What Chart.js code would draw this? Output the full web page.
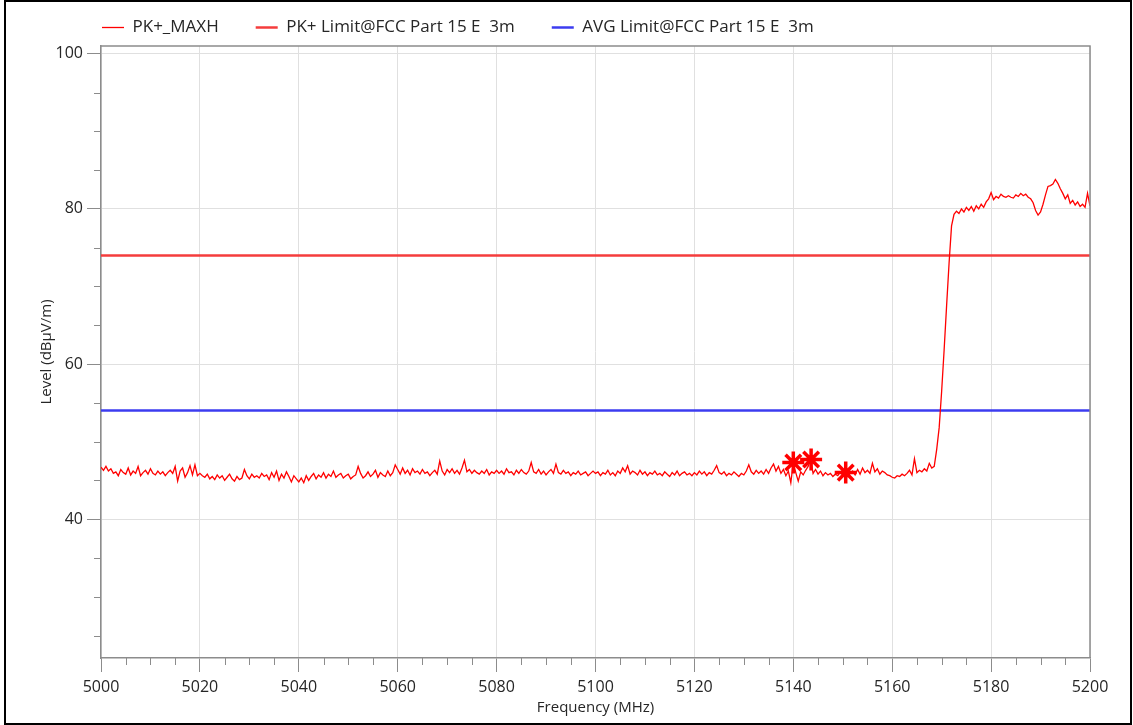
<!DOCTYPE html>
<html>
<head>
<meta charset="utf-8">
<script src="https://cdn.jsdelivr.net/npm/chart.js@4.4.1/dist/chart.umd.min.js"></script>
<style>
  html, body { margin: 0; padding: 0; background: #fff; }
  #frame { position: absolute; left: 4px; top: 0; width: 1128px; height: 725px; box-sizing: border-box; border: 2px solid #000; }
  #chart { display: block; }
</style>
</head>
<body>
<div id="frame"><canvas id="chart" width="1124" height="721"></canvas></div>
<script>
// sweep grid (MHz)
const freqStart = 5000;
const freqStep = 0.5;

// PK+_MAXH trace, dBµV/m, one value per 0.5 MHz from 5000 to 5200
const pkMaxh = [
  // 5000 - 5019.5
  46.7, 46.3, 46.8, 46.2, 46.5, 45.9, 46.1, 45.6, 46.4, 46.0,
  45.8, 46.6, 45.7, 46.2, 45.9, 46.8, 45.6, 46.0, 46.3, 45.8,
  46.5, 45.9, 45.7, 46.2, 45.8, 46.1, 45.6, 46.0, 46.3, 45.9,
  46.8, 44.9, 46.2, 46.6, 45.4, 46.0, 46.9, 45.7, 47.0, 45.6,
  // 5020 - 5039.5
  45.9, 45.6, 45.4, 45.8, 45.2, 45.5, 45.1, 45.7, 45.3, 45.6,
  45.0, 45.4, 45.8, 45.2, 44.9, 45.5, 45.1, 45.3, 46.4, 45.6,
  45.2, 45.8, 45.4, 45.6, 45.3, 45.9, 45.5, 45.7, 45.1, 46.0,
  45.4, 46.2, 45.0, 45.8, 45.3, 46.1, 45.5, 44.8, 45.6, 45.2,
  // 5040 - 5059.5
  44.8, 45.3, 44.7, 45.6, 45.0, 45.5, 45.9, 45.2, 45.7, 45.4,
  46.0, 45.3, 45.8, 45.5, 46.2, 45.4, 45.7, 45.9, 45.3, 45.6,
  45.8, 45.2, 45.5, 45.7, 46.8, 45.9, 45.3, 45.6, 46.1, 45.5,
  45.8, 46.3, 45.4, 46.0, 45.7, 45.5, 46.2, 45.6, 46.0, 47.0,
  // 5060 - 5079.5
  46.4, 45.8, 46.6, 45.9, 46.3, 45.7, 46.5, 46.0, 46.2, 45.8,
  46.4, 45.9, 46.1, 45.6, 46.0, 46.3, 45.8, 47.5, 46.2, 45.7,
  46.4, 46.0, 46.5, 45.9, 46.3, 45.8, 46.6, 47.6, 46.1, 46.4,
  45.9, 46.3, 46.0, 45.8, 46.2, 45.9, 46.4, 45.7, 46.1, 45.9,
  // 5080 - 5099.5
  46.3, 45.9, 46.2, 45.8, 46.5, 46.0, 46.1, 45.7, 46.3, 45.9,
  46.4, 46.0, 45.8, 46.2, 47.3, 46.1, 45.9, 46.4, 45.8, 46.2,
  45.7, 46.1, 46.4, 45.9, 47.1, 46.0, 45.8, 46.3, 45.9, 46.1,
  45.6, 46.0, 45.8, 46.2, 45.7, 45.9, 46.1, 45.6, 45.9, 46.2,
  // 5100 - 5119.5
  45.9, 46.1, 45.6, 46.0, 45.8, 46.3, 45.7, 46.0, 45.6, 46.2,
  45.9, 46.6, 46.1, 46.9, 45.8, 46.2, 46.0, 45.7, 46.3, 45.8,
  46.1, 45.6, 46.0, 45.8, 46.2, 45.7, 45.9, 45.6, 46.1, 45.8,
  45.5, 46.0, 45.7, 46.2, 45.6, 45.9, 46.1, 45.7, 45.9, 45.6,
  // 5120 - 5139.5
  46.0, 45.7, 46.2, 45.8, 46.1, 45.6, 46.0, 45.8, 46.3, 46.9,
  46.0, 45.8, 46.1, 45.6, 45.9, 45.7, 46.1, 45.8, 45.5, 45.9,
  45.7, 46.2, 47.0, 46.1, 45.8, 46.3, 45.9, 46.2, 45.8, 46.4,
  45.9, 46.6, 47.1, 46.2, 46.8, 45.9, 46.4, 45.6, 46.2, 44.7,
  // 5140 - 5159.5
  47.3, 46.0, 44.9, 46.1, 45.7, 46.3, 46.8, 47.7, 45.9, 46.4,
  45.8, 46.2, 45.6, 46.0, 45.7, 45.9, 45.5, 45.8, 45.6, 46.1,
  45.7, 46.0, 45.5, 45.9, 46.2, 45.7, 46.4, 45.8, 46.6, 46.0,
  46.3, 45.9, 47.2, 46.1, 46.5, 45.8, 46.2, 46.0, 45.7, 45.6,
  // 5160 - 5200
  45.4, 45.3, 45.6, 45.5, 45.8, 45.6, 45.9, 46.3, 45.7, 47.8,
  46.0, 46.3, 46.1, 46.5, 46.2, 47.2, 46.6, 46.8, 49.0, 51.8,
  56.5, 61.8, 67.5, 73.0, 77.8, 79.3, 79.7, 79.4, 80.0, 79.6,
  80.2, 79.8, 80.3, 79.7, 80.4, 80.0, 80.6, 80.2, 80.9, 81.3,
  82.1, 81.2, 81.6, 81.4, 81.9, 81.6, 81.5, 81.7, 81.5, 81.4,
  81.8, 81.6, 82.0, 81.7, 81.9, 81.5, 81.3, 80.8, 79.8, 79.2,
  79.6, 80.6, 81.8, 82.9, 83.0, 83.2, 83.8, 83.3, 82.6, 82.0,
  81.3, 81.8, 80.7, 81.1, 80.5, 80.9, 80.3, 80.6, 80.2, 82.0,
  80.4
];
const freqs = pkMaxh.map((_, i) => freqStart + i * freqStep);

// peak markers
const markerFreqs = [5140.0, 5143.6, 5150.6];
const markerLevels = [47.3, 47.7, 46.0];

// limit lines
const limitFreqs = [5000, 5200];
const pkLimit = 74;
const avgLimit = 54;

// axes
const xMin = 5000, xMax = 5200, xStep = 20, xMinorStep = 5;
const yMin = 22.1, yMax = 101, yStep = 20, yMinorStep = 5;

const TRACE_RED = 'rgb(255, 0, 0)';
const LIMIT_RED = 'rgb(245, 60, 60)';
const LIMIT_BLUE = 'rgb(60, 60, 240)';
const AXIS_GRAY = '#8c8c8c';
const GRID_GRAY = '#e0e0e0';
const TEXT = '#262626';

Chart.defaults.font.family = '"Open Sans", "Noto Sans", sans-serif';

// legend sits left-aligned with the plot, like the original
const legendX = 96, legendY = 17;
const legendPlacer = {
  id: 'legendPlacer',
  afterLayout(chart) {
    const lg = chart.legend;
    const pad = lg.options.labels.padding;
    lg.left = legendX - pad;
    lg.top = legendY - pad;
  }
};

// short minor ticks and the top/right frame of the plot
const minorTicks = {
  id: 'minorTicks',
  afterDraw(chart) {
    const { ctx, chartArea, scales: { x, y } } = chart;
    ctx.save();
    ctx.strokeStyle = AXIS_GRAY;
    ctx.lineWidth = 1;
    ctx.beginPath();
    for (let v = xMin + xMinorStep; v < xMax; v += xMinorStep) {
      if (v % xStep === 0) continue;
      const px = Math.round(x.getPixelForValue(v)) + 0.5;
      ctx.moveTo(px, x.top);
      ctx.lineTo(px, x.top + 7);
    }
    for (let v = 25; v < yMax; v += yMinorStep) {
      if (v % yStep === 0) continue;
      const py = Math.round(y.getPixelForValue(v)) + 0.5;
      ctx.moveTo(y.right, py);
      ctx.lineTo(y.right - 7, py);
    }
    ctx.stroke();
    ctx.lineWidth = 1.5;
    ctx.beginPath();
    ctx.moveTo(chartArea.left, chartArea.top);
    ctx.lineTo(chartArea.right, chartArea.top);
    ctx.lineTo(chartArea.right, chartArea.bottom);
    ctx.stroke();
    ctx.restore();
  }
};

new Chart(document.getElementById('chart'), {
  type: 'line',
  data: {
    datasets: [
      {
        label: 'markers',
        data: markerFreqs.map((f, i) => ({ x: f, y: markerLevels[i] })),
        showLine: false,
        pointStyle: 'star',
        pointRadius: 11,
        borderColor: TRACE_RED,
        backgroundColor: TRACE_RED,
        pointBorderWidth: 3.5,
        borderWidth: 3.5
      },
      {
        label: 'PK+_MAXH',
        data: freqs.map((f, i) => ({ x: f, y: pkMaxh[i] })),
        borderColor: TRACE_RED,
        backgroundColor: TRACE_RED,
        borderWidth: 1.3,
        pointRadius: 0
      },
      {
        label: 'PK+ Limit@FCC Part 15 E  3m',
        data: limitFreqs.map(f => ({ x: f, y: pkLimit })),
        borderColor: LIMIT_RED,
        backgroundColor: LIMIT_RED,
        borderWidth: 2.5,
        pointRadius: 0
      },
      {
        label: 'AVG Limit@FCC Part 15 E  3m',
        data: limitFreqs.map(f => ({ x: f, y: avgLimit })),
        borderColor: LIMIT_BLUE,
        backgroundColor: LIMIT_BLUE,
        borderWidth: 2.5,
        pointRadius: 0
      }
    ]
  },
  options: {
    responsive: false,
    animation: false,
    layout: { padding: { left: 0, right: 40, top: 0, bottom: 0 } },
    plugins: {
      tooltip: { enabled: false },
      legend: {
        position: 'top',
        align: 'start',
        maxHeight: 44,
        labels: {
          filter: item => item.text !== 'markers',
          usePointStyle: true,
          pointStyle: 'line',
          pointStyleWidth: 22,
          padding: 37,
          color: TEXT,
          font: { size: 17 }
        }
      }
    },
    scales: {
      x: {
        type: 'linear',
        min: xMin,
        max: xMax,
        afterFit: s => { s.height = 65; },
        border: { color: AXIS_GRAY, width: 1.5 },
        grid: { color: GRID_GRAY, tickLength: 14, tickColor: AXIS_GRAY, tickWidth: 1 },
        ticks: {
          stepSize: xStep,
          padding: 6,
          color: TEXT,
          font: { size: 16 },
          maxRotation: 0,
          autoSkip: false,
          callback: v => String(v)
        },
        title: {
          display: true,
          text: 'Frequency (MHz)',
          color: TEXT,
          font: { size: 15 },
          padding: { top: 0, bottom: 6.5 }
        }
      },
      y: {
        type: 'linear',
        min: yMin,
        max: yMax,
        afterFit: s => { s.width = 95; },
        border: { color: AXIS_GRAY, width: 1.5 },
        grid: { color: GRID_GRAY, tickLength: 14, tickColor: AXIS_GRAY, tickWidth: 1 },
        ticks: {
          stepSize: yStep,
          includeBounds: false,
          padding: 4,
          color: TEXT,
          font: { size: 16 },
          callback: v => String(v)
        },
        title: {
          display: true,
          text: 'Level (dBµV/m)',
          color: TEXT,
          font: { size: 15 },
          padding: { top: 32, bottom: 0 }
        }
      }
    }
  },
  plugins: [legendPlacer, minorTicks]
});
</script>
</body>
</html>
